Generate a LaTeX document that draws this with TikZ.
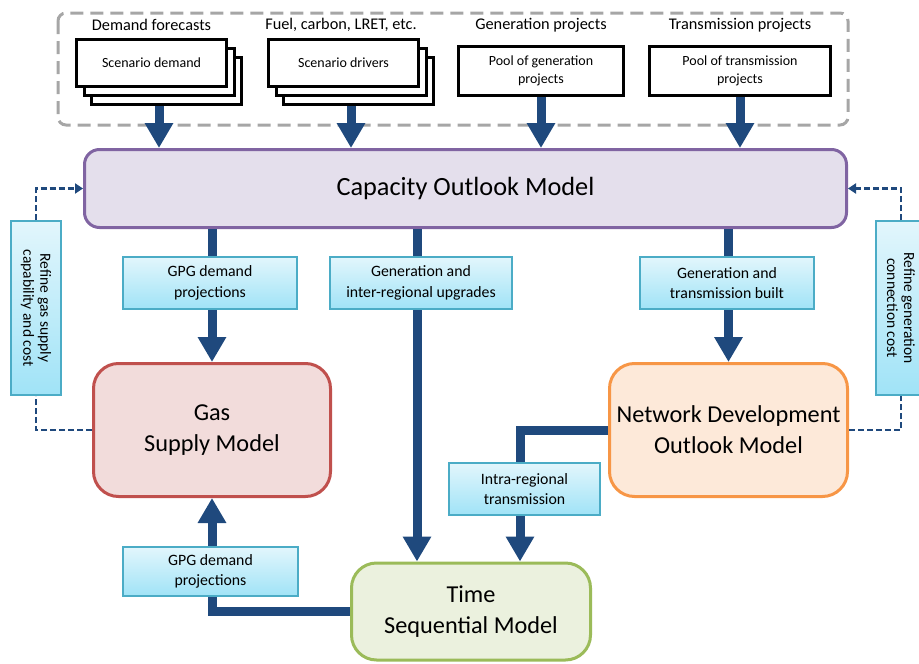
\documentclass[tikz,border=0pt]{standalone}
\usepackage{fontspec}
\setmainfont{Carlito}
\usetikzlibrary{arrows.meta,positioning}

\definecolor{arrowblue}{RGB}{31,73,125}
\definecolor{framegray}{RGB}{166,166,166}
\definecolor{capfill}{RGB}{228,223,236}
\definecolor{capdraw}{RGB}{128,100,162}
\definecolor{gasfill}{RGB}{242,220,219}
\definecolor{gasdraw}{RGB}{192,80,77}
\definecolor{netfill}{RGB}{253,233,217}
\definecolor{netdraw}{RGB}{247,150,70}
\definecolor{timefill}{RGB}{235,241,222}
\definecolor{timedraw}{RGB}{155,187,89}
\definecolor{labtop}{RGB}{226,246,252}
\definecolor{labbot}{RGB}{160,227,247}
\definecolor{labdraw}{RGB}{75,172,198}

\begin{document}
\begin{tikzpicture}[x=1pt,y=-1pt,
  sheet/.style={draw=black,line width=3pt,fill=white,align=center,
    font=\fontsize{14}{18}\selectfont},
  model/.style={rounded corners=25pt,line width=3pt,align=center,
    font=\fontsize{24.3}{31}\selectfont},
  datalabel/.style={draw=labdraw,line width=2pt,top color=labtop,bottom color=labbot,
    align=center,minimum height=52pt,font=\fontsize{15.8}{20.5}\selectfont},
  heading/.style={font=\fontsize{16.3}{18}\selectfont},
  flow/.style={draw=arrowblue,line width=9pt,-{Triangle[width=27pt,length=25pt]}},
  dashlink/.style={draw=arrowblue,line width=2.5pt,dash pattern=on 6pt off 3pt},
  feedback/.style={dashlink,-{Triangle[width=10pt,length=8pt]}},
  ]

\useasboundingbox (0,0) rectangle (919,664);

% Input frame
\draw[framegray,line width=3pt,dash pattern=on 13pt off 7pt,rounded corners=8pt]
  (58,13) rectangle (848,125);

% Scenario stacks
\node[sheet,minimum width=150pt,minimum height=47pt] (dem3) at (166.5,81) {};
\node[sheet,minimum width=150pt,minimum height=47pt] (dem2) at (159,72) {};
\node[sheet,minimum width=150pt,minimum height=47pt] (dem) at (151.5,63) {Scenario demand};
\node[heading] (demlbl) at (151.5,25) {Demand forecasts};

\node[sheet,minimum width=150pt,minimum height=47pt] (drv3) at (358.5,81) {};
\node[sheet,minimum width=150pt,minimum height=47pt] (drv2) at (351,72) {};
\node[sheet,minimum width=150pt,minimum height=47pt] (drv) at (343.5,63) {Scenario drivers};
\node[heading] (drvlbl) at (341,25) {Fuel, carbon, LRET, etc.};

% Project pools
\node[sheet,minimum width=165pt,minimum height=49pt] (poolgen) at (541,71) {Pool of generation\\projects};
\node[heading] (genlbl) at (541,25) {Generation projects};
\node[sheet,minimum width=181pt,minimum height=49pt] (pooltr) at (740,71) {Pool of transmission\\projects};
\node[heading] (trlbl) at (740,25) {Transmission projects};

% Models
\node[draw=capdraw,fill=capfill,line width=3pt,rounded corners=15pt,
  minimum width=762pt,minimum height=78pt,font=\fontsize{26.3}{30}\selectfont]
  (cap) at (465.5,188.5) {Capacity Outlook Model};
\node[model,draw=gasdraw,fill=gasfill,minimum width=237pt,minimum height=133pt]
  (gas) at (212,430) {Gas\\Supply Model};
\node[model,draw=netdraw,fill=netfill,minimum width=238pt,minimum height=133pt]
  (net) at (728.5,430) {Network Development\\Outlook Model};
\node[model,draw=timedraw,fill=timefill,minimum width=239pt,minimum height=97pt]
  (time) at (471,611.5) {Time\\Sequential Model};

% Inputs into the outlook model
\draw[flow] (dem2 |- dem3.south) -- (dem2 |- cap.north);
\draw[flow] (drv2 |- drv3.south) -- (drv2 |- cap.north);
\draw[flow] (poolgen.south) -- (poolgen |- cap.north);
\draw[flow] (pooltr.south) -- (pooltr |- cap.north);

% Flows between models
\coordinate (upx) at (417,0);
\coordinate (intrax) at (520,0);
\draw[flow] (cap.south -| gas.north) -- (gas.north);
\draw[flow] (cap.south -| upx) -- (time.north -| upx);
\draw[flow] (cap.south -| net.north) -- (net.north);
\draw[flow] (net.west) -| (time.north -| intrax);
\draw[flow] (time.west) -| (gas.south);

% Flow labels
\node[datalabel,minimum width=174pt] (gpgup) at (210,283) {GPG demand\\projections};
\node[datalabel,minimum width=182pt] (upgrades) at (421,283) {Generation and\\inter-regional upgrades};
\node[datalabel,minimum width=174pt] (built) at (727,283) {Generation and\\transmission built};
\node[datalabel,minimum width=151pt] (intra) at (524.5,489) {Intra-regional\\transmission};
\node[datalabel,minimum width=175pt,minimum height=49pt] (gpgdown) at (210.5,571.5) {GPG demand\\projections};

% Feedback loops
\node[datalabel,rotate=-90,minimum width=174pt,minimum height=50pt,
  font=\fontsize{15.5}{17}\selectfont] (refgas) at (36,308) {Refine gas supply\\capability and cost};
\node[datalabel,rotate=-90,minimum width=174pt,minimum height=50pt,
  font=\fontsize{15.5}{17}\selectfont] (refgen) at (901,308) {Refine generation\\connection cost};
\draw[dashlink] (gas.west) -| (refgas.east);
\draw[feedback] (refgas.west) |- (cap.west);
\draw[dashlink] (net.east) -| (refgen.east);
\draw[feedback] (refgen.west) |- (cap.east);

\end{tikzpicture}
\end{document}
